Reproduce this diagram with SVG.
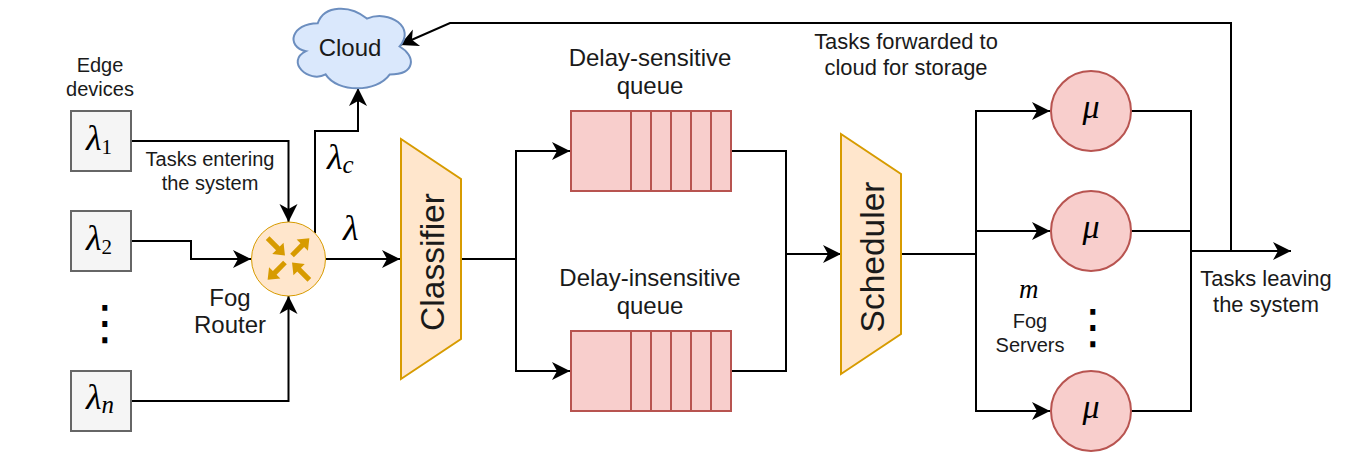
<svg xmlns="http://www.w3.org/2000/svg" xmlns:xlink="http://www.w3.org/1999/xlink" width="1348" height="452" viewBox="0 0 1348 452">
<style>
text{font-family:"Liberation Sans",Arial,sans-serif;fill:#1a1a1a;text-anchor:middle}
.m{font-family:"Liberation Serif","Times New Roman",serif;font-style:italic;fill:#000;font-size:36px;text-anchor:start}
.s{font-style:normal;font-size:21px}
.si{font-size:25px}
.mm{font-size:27px}
.mu{font-size:34px;text-anchor:middle}
.dots{font-family:"DejaVu Sans",sans-serif;fill:#000;font-size:48px}
.c{fill:none;stroke:#000;stroke-width:2;marker-end:url(#a)}
.l{fill:none;stroke:#000;stroke-width:2}
.dev{fill:#f5f5f5;stroke:#666;stroke-width:2}
.q{fill:#f8cecc;stroke:#b85450;stroke-width:2}
.t{fill:#ffe6cc;stroke:#d79b00;stroke-width:2}
.t20{font-size:20px}
.t235{font-size:24px}
.t215{font-size:21.9px}
.t335{font-size:33.5px}
</style>
<defs>
<marker id="a" markerUnits="userSpaceOnUse" markerWidth="20" markerHeight="20" viewBox="-19 -10 20 20" refX="0" refY="0" orient="auto"><path d="M0 0L-18 -9L-13 0L-18 9Z" fill="#000"/></marker>
<polygon id="ra" points="0,-2.6 14.5,-2.6 14.5,-8 24.5,0 14.5,8 14.5,2.6 0,2.6" fill="#d79b00"/>
<g id="queue"><rect class="q" x="0" y="0" width="160" height="80"/><path class="q" d="M60 0V80M80 0V80M100 0V80M120 0V80M140 0V80"/></g>
</defs>
<g id="connectors">
<path class="c" d="M132 141H288.5V222"/>
<path class="c" d="M132 241H191V259H251"/>
<path class="c" d="M132 401H288.5V296"/>
<path class="c" d="M315 233V131H358V88"/>
<path class="c" d="M326 259H400"/>
<path class="l" d="M461 259H516"/>
<path class="c" d="M516 259V151H570"/>
<path class="c" d="M516 259V371H570"/>
<path class="l" d="M732 151H786V254"/>
<path class="l" d="M732 371H786V254"/>
<path class="c" d="M786 254H841"/>
<path class="l" d="M901 254H976"/>
<path class="c" d="M976 254V111H1050"/>
<path class="c" d="M976 231H1050"/>
<path class="c" d="M976 254V411H1050"/>
<path class="l" d="M1131 111H1191V251"/>
<path class="l" d="M1131 231H1191"/>
<path class="l" d="M1131 411H1191V251"/>
<path class="c" d="M1191 251H1291"/>
<path class="c" d="M1231 251V23H450L400 45"/>
</g>
<g id="edge-label"><text class="t20" x="100" y="72">Edge</text><text class="t20" x="100" y="96">devices</text></g>
<g id="device-1"><rect class="dev" x="71" y="111" width="60" height="60"/><text class="m" x="86" y="150">λ<tspan class="s" dy="4">1</tspan></text></g>
<g id="device-2"><rect class="dev" x="71" y="211" width="60" height="60"/><text class="m" x="86" y="250">λ<tspan class="s" dy="4">2</tspan></text></g>
<g id="device-n"><rect class="dev" x="71" y="371" width="60" height="60"/><text class="m" x="86" y="409">λ<tspan class="si" dy="4">n</tspan></text></g>
<text class="dots" x="105" y="339">⋮</text>
<text class="t20" x="210" y="166">Tasks entering</text><text class="t20" x="210" y="190">the system</text>
<g id="cloud" transform="translate(0 1)"><path d="M317.75 22.25C291.55 22.25 285 45.5 305.96 50.15C285 60.38 308.58 82.7 325.61 73.4C337.4 92 376.7 92 389.8 73.4C416 73.4 416 54.8 399.6 45.5C416 26.9 389.8 8.3 366.9 17.6C350.5 3.65 324.3 3.65 317.75 22.25Z" fill="#dae8fc" stroke="#6c8ebf" stroke-width="2"/><text class="t235" x="350" y="55">Cloud</text></g>
<g id="router"><circle cx="288.5" cy="259" r="37" fill="#ffe6cc" stroke="#d79b00" stroke-width="1"/>
<use xlink:href="#ra" href="#ra" transform="translate(288.5 259) rotate(-45) translate(5 0)"/>
<use xlink:href="#ra" href="#ra" transform="translate(288.5 259) rotate(135) translate(5 0)"/>
<use xlink:href="#ra" href="#ra" transform="translate(288.5 259) rotate(-135) translate(29.5 0) rotate(180)"/>
<use xlink:href="#ra" href="#ra" transform="translate(288.5 259) rotate(45) translate(29.5 0) rotate(180)"/>
</g>
<text class="t235" x="230" y="306">Fog</text><text class="t235" x="230" y="333">Router</text>
<text class="m" x="327" y="169">λ<tspan class="si" dy="4">c</tspan></text>
<text class="m" x="343" y="240">λ</text>
<g id="classifier"><polygon class="t" points="401,139 461,179 461,339 401,379"/><text class="t335" transform="translate(444 262) rotate(-90)">Classifier</text></g>
<g id="queue-sensitive"><text class="t235" x="650" y="66">Delay-sensitive</text><text class="t235" x="650" y="94">queue</text><use xlink:href="#queue" href="#queue" x="571" y="111"/></g>
<g id="queue-insensitive"><text class="t235" x="650" y="286">Delay-insensitive</text><text class="t235" x="650" y="314">queue</text><use xlink:href="#queue" href="#queue" x="571" y="331"/></g>
<g id="scheduler"><polygon class="t" points="841,134 901,174 901,334 841,374"/><text class="t335" transform="translate(884 257) rotate(-90)">Scheduler</text></g>
<text class="t215" x="906" y="49">Tasks forwarded to</text><text class="t215" x="906" y="75">cloud for storage</text>
<g id="server-1"><circle class="q" cx="1091" cy="111" r="40"/><text class="m mu" x="1091" y="118">μ</text></g>
<g id="server-2"><circle class="q" cx="1091" cy="231" r="40"/><text class="m mu" x="1091" y="238">μ</text></g>
<g id="server-m"><circle class="q" cx="1091" cy="411" r="40"/><text class="m mu" x="1091" y="418">μ</text></g>
<text class="dots" x="1093" y="343">⋮</text>
<text class="m mm" x="1019" y="298">m</text>
<text class="t20" x="1030" y="328">Fog</text><text class="t20" x="1030" y="352">Servers</text>
<text class="t215" x="1266" y="286">Tasks leaving</text><text class="t215" x="1266" y="312">the system</text>
</svg>
